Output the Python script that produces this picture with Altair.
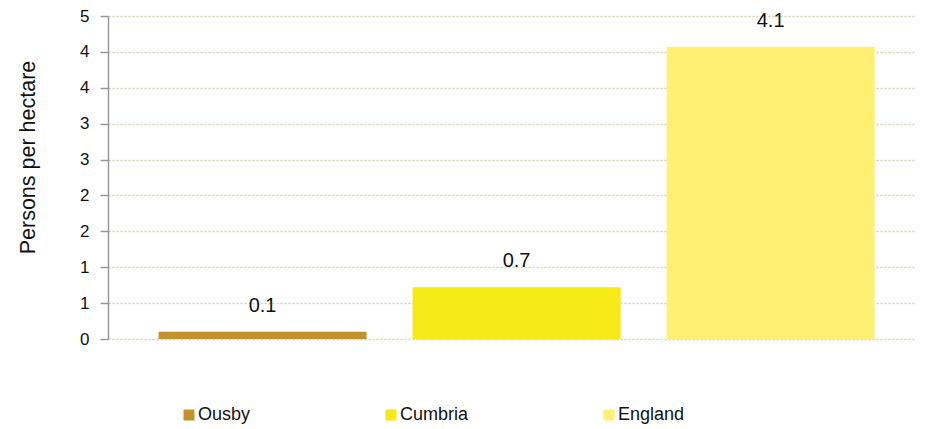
import altair as alt
import pandas as pd

areas = ["Ousby", "Cumbria", "England"]
density = [0.10, 0.72, 4.07]
colors = ["#C4922C", "#F5E916", "#FFF073"]
y_ticks = [0, 0.5, 1, 1.5, 2, 2.5, 3, 3.5, 4, 4.5]
y_tick_labels = ["0", "1", "1", "2", "2", "3", "3", "4", "4", "5"]

df = pd.DataFrame({"area": areas, "value": density})

FONT = "Liberation Sans"
label_expr = "[" + ",".join("'%s'" % s for s in y_tick_labels) + "][round(datum.value*2)]"

x = alt.X("area:N", sort=areas, axis=None,
          scale=alt.Scale(paddingInner=0.181, paddingOuter=0.181, align=0.55))
y = alt.Y("value:Q",
          scale=alt.Scale(domain=[0, 4.5], nice=False, zero=True),
          axis=alt.Axis(values=y_ticks, labelExpr=label_expr, title="Persons per hectare",
                        grid=True, gridColor="#D6CEAE", gridDash=[2, 2], gridWidth=1.5,
                        domain=True, domainColor="#999999", domainWidth=1.5,
                        ticks=True, tickColor="#999999", tickWidth=1.5, tickSize=8,
                        labelPadding=11, labelFontSize=17,
                        labelColor="#111111", labelFont=FONT, titleFont=FONT,
                        titleFontSize=21.5, titleFontWeight="normal", titleColor="#111111",
                        titleX=-80, titleY=141, titleBaseline="middle", titleAlign="center",
                        titleAngle=270))

bars = alt.Chart(df).mark_bar().encode(
    x=x, y=y,
    color=alt.Color("area:N", sort=areas,
                    scale=alt.Scale(domain=areas, range=colors),
                    legend=alt.Legend(title=None, orient="none", legendX=72, legendY=390,
                                      direction="horizontal", symbolType="square",
                                      symbolSize=121, symbolStrokeWidth=0, labelOffset=0,
                                      columnPadding=131, labelFontSize=18, labelFont=FONT,
                                      labelColor="#111111")),
)

labels = alt.Chart(df).mark_text(dy=-20, baseline="alphabetic", fontSize=20,
                                 font=FONT, color="#111111").encode(
    x=x, y=y,
    text=alt.Text("value:Q", format=".1f"),
)

chart = (bars + labels).properties(
    width=808, height=323,
    background="white",
    autosize=alt.AutoSizeParams(type="none"),
    padding={"left": 100, "top": 8, "right": 2, "bottom": 88},
).configure_view(strokeWidth=0, stroke="transparent")

chart.save("out.html", embed_options={"renderer": "svg", "actions": False})
